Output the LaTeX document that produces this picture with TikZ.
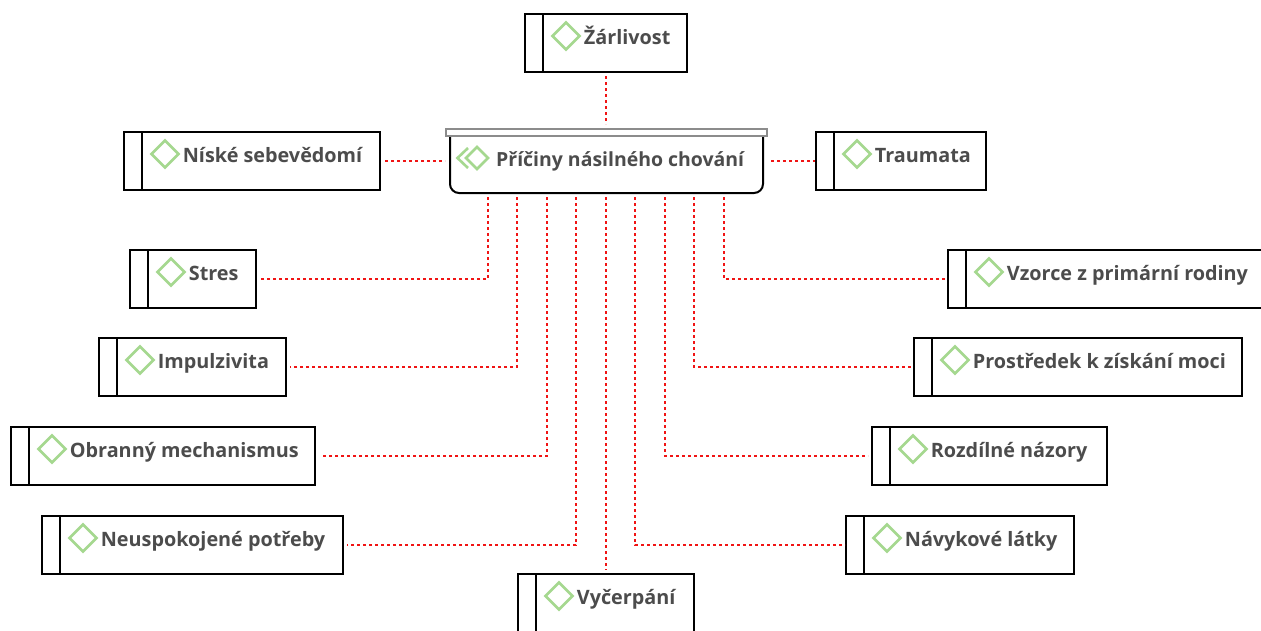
\documentclass[tikz,border=0pt]{standalone}
\usepackage{fontspec}
\setmainfont{Open Sans}
\usetikzlibrary{shapes.geometric,calc}
\definecolor{lbl}{HTML}{4C4C4C}
\definecolor{grn}{HTML}{A5D88F}
\definecolor{capg}{HTML}{8C8C8C}
\definecolor{lnk}{HTML}{F01414}
\tikzset{
  itembox/.style={draw=black,line width=2pt,fill=white,inner sep=0pt,outer sep=0pt,anchor=north west},
  itemsep/.style={draw=black,line width=2pt},
  dia/.style={diamond,draw=grn,line width=2.6pt,inner sep=0pt,outer sep=0pt,minimum width=27pt,minimum height=27pt},
  lab/.style={text=lbl,font=\fontsize{19.8pt}{22pt}\selectfont\bfseries,inner sep=0pt,anchor=base west},
  clab/.style={lab,font=\fontsize{19.45pt}{22pt}\selectfont\bfseries},
  link/.style={draw=lnk,line width=2pt,dash pattern=on 3pt off 3pt},
}
% name, left, top, right, bottom, text
\newcommand{\itemnode}[6]{%
  \node[itembox,minimum width=#4pt-#2pt,minimum height=#5pt-#3pt] (#1) at (#2,#3) {};
  \draw[itemsep] ($(#1.north west)+(18,0)$) -- ($(#1.south west)+(18,0)$);
  \node[dia] (#1d) at ($(#1.north west)+(41,22)$) {};
  \node[lab] (#1t) at ($(#1.north west)+(58.7,30)$) {#6};
}
\begin{document}
\begin{tikzpicture}[x=1pt,y=-1pt]
\useasboundingbox (0,0) rectangle (1261,630);
\clip (0,0) rectangle (1261,630);
\fill[white] (0,0) rectangle (1261,630);
% centre
\node[draw=none,inner sep=0pt,outer sep=0pt,minimum width=313pt,minimum height=59pt,anchor=north west] (c) at (450,134) {};
\draw[black,line width=2pt,fill=white,rounded corners=9pt] (c.north west) -- (c.south west) -- (c.south east) -- (c.north east);
\node[draw=capg,line width=2pt,fill=white,inner sep=0pt,outer sep=0pt,minimum width=321pt,minimum height=7pt,anchor=north west] (cap) at (446,129) {};
\draw[grn,line width=2.6pt] (468,148) -- (457.5,158) -- (468,168);
\node[dia,minimum width=22pt,minimum height=22pt] (cd) at (477,158) {};
\node[clab] (ct) at (496,166) {Příčiny násilného chování};
% items
\itemnode{zar}{525}{14}{687}{72}{Žárlivost}
\itemnode{nis}{124}{132}{380}{190}{Níské sebevědomí}
\itemnode{tra}{816}{132}{986}{190}{Traumata}
\itemnode{str}{130}{250}{256}{308}{Stres}
\itemnode{imp}{99}{338}{286}{396}{Impulzivita}
\itemnode{obr}{11}{427}{315}{485}{Obranný mechanismus}
\itemnode{neu}{42}{516}{343}{574}{Neuspokojené potřeby}
\itemnode{vyc}{518}{574}{694}{632}{Vyčerpání}
\itemnode{nav}{846}{516}{1074}{574}{Návykové látky}
\itemnode{roz}{872}{427}{1107}{485}{Rozdílné názory}
\itemnode{pro}{914}{338}{1242}{396}{Prostředek k získání moci}
\itemnode{vzo}{948}{250}{1275}{308}{Vzorce z primární rodiny}
% connector starts on the lower edge of the centre node
\coordinate (s1) at (488,193);
\coordinate (s2) at (517,193);
\coordinate (s3) at (547,193);
\coordinate (s4) at (576,193);
\coordinate (s5) at (606,193);
\coordinate (s6) at (635,193);
\coordinate (s7) at (665,193);
\coordinate (s8) at (694,193);
\coordinate (s9) at (724,193);
\coordinate (cl) at (450,161);
\coordinate (cr) at (763,161);
\coordinate (ct2) at (606,129);
\coordinate (nisr) at (380,161);
\coordinate (tral) at (816,161);
% connectors
\draw[link,shorten <=4pt,shorten >=5pt] (zar.south -| ct2) -- (ct2);
\draw[link,shorten <=5pt,shorten >=5pt] (nisr) -- (cl);
\draw[link,shorten <=8pt,shorten >=1pt] (cr) -- (tral);
\draw[link,shorten <=4pt,shorten >=4pt] (s1) |- (str.east);
\draw[link,shorten <=4pt,shorten >=4pt] (s2) |- (imp.east);
\draw[link,shorten <=4pt,shorten >=7pt] (s3) |- (obr.east);
\draw[link,shorten <=4pt,shorten >=4pt] (s4) |- (neu.east);
\draw[link,shorten <=4pt,shorten >=4pt] (s5) -- (s5 |- vyc.north);
\draw[link,shorten <=4pt,shorten >=1pt] (s6) |- (nav.west);
\draw[link,shorten <=4pt,shorten >=4pt] (s7) |- (roz.west);
\draw[link,shorten <=4pt,shorten >=1pt] (s8) |- (pro.west);
\draw[link,shorten <=4pt,shorten >=2pt] (s9) |- (vzo.west);
\end{tikzpicture}
\end{document}
